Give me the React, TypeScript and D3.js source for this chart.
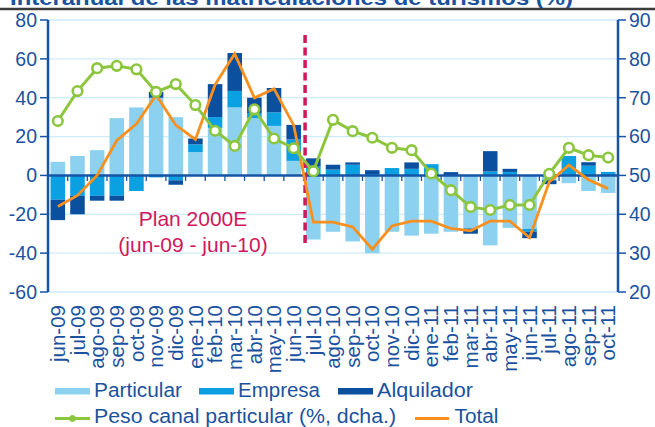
import React from "react";
import * as d3 from "d3";

const categories = ["jun-09","jul-09","ago-09","sep-09","oct-09","nov-09","dic-09","ene-10","feb-10","mar-10","abr-10","may-10","jun-10","jul-10","ago-10","sep-10","oct-10","nov-10","dic-10","ene-11","feb-11","mar-11","abr-11","may-11","jun-11","jul-11","ago-11","sep-11","oct-11"];
const particular = [7, 10, 13, 29.5, 35, 40, 30, 12, 24.5, 35, 29.5, 25.5, 7.5, -33, -29, -34, -40, -29, -31, -30, -29, -27.3, -36, -27, -27.5, -2.5, -4, -8, -9];
const empresa = [-12.5, -10.5, -10.5, -10.5, -8, -1, -2.5, 4, 5.5, 8.5, 2.5, 7, 11, 4.5, 3, 5.5, 0.7, 3.8, 3.4, 5.8, 0, 0, 2, 1.8, -1.5, 0, 10, 5, 1.8];
const alquilador = [-10.5, -9.5, -2.5, -2.5, 0, 3, -2.3, 3, 17, 19.5, 8, 12.5, 7.5, 4.3, 2.5, 1.2, 2, 0, 3.3, 0, 1.7, -2.7, 10.5, 1.6, -3.3, -2, 0, 1.8, 0];
const total = [-16, -10.3, 0, 18, 26.6, 41.4, 25.9, 18.5, 46.7, 62.6, 39.9, 44.6, 25.9, -24, -24, -26.5, -38, -26, -23.5, -23.5, -27.3, -28.5, -23.5, -23.5, -32, -3.4, 5.3, -2.2, -6.8];
const peso = [64, 71.7, 77.6, 78.2, 77.3, 71.5, 73.5, 68.1, 61.5, 57.6, 67, 59.5, 57, 51.1, 64.3, 61.4, 59.7, 57.1, 56.5, 50.5, 46.2, 41.9, 41.1, 42.4, 42.4, 50.4, 57.1, 55.2, 54.6];
const leftTicks = [-60, -40, -20, 0, 20, 40, 60, 80];
const rightTicks = [20, 30, 40, 50, 60, 70, 80, 90];
const seriesKeys = ["particular", "empresa", "alquilador"];
const seriesNames = ["Particular", "Empresa", "Alquilador"];
const title = "Interanual de las matriculaciones de turismos (%)";
const annotation = ["Plan 2000E", "(jun-09 - jun-10)"];
const lineNames = ["Peso canal particular (%, dcha.)", "Total"];

const W = 655, H = 427;
const C = {
  particular: "#8dd1f1",
  empresa: "#0aa0e2",
  alquilador: "#0b4f9f",
  green: "#8cc63f",
  orange: "#f7901e",
  axis: "#1654a6",
  text: "#1b52a0",
  grid: "#cdebf8",
  magenta: "#d0175c",
};
const FONT = "'Liberation Sans', Arial, sans-serif";

export default function App() {
  const pad = 0.26;
  const x = d3.scaleBand<string>().domain(categories).range([48, 618]).paddingInner(pad).paddingOuter(pad / 2);
  const step = x.step();
  const bw = x.bandwidth();
  const cx = (c: string) => (x(c) as number) + bw / 2;
  const yL = d3.scaleLinear().domain([-60, 80]).range([292, 20]);
  const yR = d3.scaleLinear().domain([20, 90]).range([292, 20]);

  const rows = categories.map((c, i) => ({ cat: c, particular: particular[i], empresa: empresa[i], alquilador: alquilador[i] }));
  const stacked = d3.stack<any>().keys(seriesKeys).offset(d3.stackOffsetDiverging)(rows);

  const totalLine = d3.line<number>().x((_, i) => cx(categories[i])).y((d) => yL(d));
  const pesoLine = d3.line<number>().x((_, i) => cx(categories[i])).y((d) => yR(d));

  const x0 = 48, x1 = 618;
  const dashX = (x("jul-10") as number) - 1;
  const legendBars = [
    { tx: 94, len: 88 },
    { tx: 238, len: 82 },
    { tx: 377, len: 96 },
  ];

  return (
    <svg width={W} height={H} style={{ position: "absolute", left: 0, top: 0, background: "#fff" }} fontFamily={FONT}>
      {/* title */}
      <text x={10} y={4.5} fontSize={20} fontWeight="bold" fill={C.text} textLength={563} lengthAdjust="spacingAndGlyphs">{title}</text>
      <line x1={0} x2={W} y1={9} y2={9} stroke="#3c3c3c" strokeWidth={2.5} />

      {/* grid */}
      {leftTicks.map((t) => (
        <line key={"g" + t} x1={x0} x2={x1} y1={yL(t)} y2={yL(t)} stroke={C.grid} strokeWidth={1.3} />
      ))}

      {/* bars */}
      {stacked.map((s) => (
        <g key={s.key} fill={(C as any)[s.key]}>
          {s.map((d: any, i: number) => {
            const y0 = yL(d[0]), y1 = yL(d[1]);
            const h = Math.abs(y0 - y1);
            if (h < 0.01) return null;
            return <rect key={i} x={x(categories[i])} width={bw} y={Math.min(y0, y1)} height={h} />;
          })}
        </g>
      ))}

      {/* zero line with ticks */}
      <line x1={x0} x2={x1} y1={yL(0)} y2={yL(0)} stroke={C.axis} strokeWidth={2.5} />
      {categories.slice(1).map((c, i) => {
        const bx = (x(c) as number) - (step - bw) / 2;
        return <line key={"zt" + i} x1={bx} x2={bx} y1={yL(0)} y2={yL(0) + 5.5} stroke={C.axis} strokeWidth={1.3} />;
      })}

      {/* left axis */}
      <line x1={x0} x2={x0} y1={yL(80)} y2={yL(-60)} stroke={C.axis} strokeWidth={2.5} />
      {leftTicks.map((t) => (
        <g key={"lt" + t}>
          <line x1={x0 - 8} x2={x0} y1={yL(t)} y2={yL(t)} stroke={C.axis} strokeWidth={1.5} />
          <text x={37} y={yL(t)} dy="0.35em" textAnchor="end" fontSize={19.5} fill={C.text}>{t}</text>
        </g>
      ))}
      {/* right axis */}
      <line x1={x1} x2={x1} y1={yR(90)} y2={yR(20)} stroke={C.axis} strokeWidth={2.5} />
      {rightTicks.map((t) => (
        <g key={"rt" + t}>
          <line x1={x1} x2={x1 + 8} y1={yR(t)} y2={yR(t)} stroke={C.axis} strokeWidth={1.5} />
          <text x={629} y={yR(t)} dy="0.35em" textAnchor="start" fontSize={19.5} fill={C.text}>{t}</text>
        </g>
      ))}

      {/* x labels */}
      {categories.map((c) => (
        <text key={"xl" + c} transform={`translate(${cx(c)},305) rotate(-90)`} dy="0.35em" textAnchor="end" fontSize={20.5} fill={C.text}>{c}</text>
      ))}

      {/* dashed plan line */}
      <line x1={dashX} x2={dashX} y1={35} y2={245} stroke={C.magenta} strokeWidth={3.5} strokeDasharray="8,4.5" />
      <text x={193} y={226} textAnchor="middle" fontSize={21} fill={C.magenta}>{annotation[0]}</text>
      <text x={193} y={252} textAnchor="middle" fontSize={21} fill={C.magenta}>{annotation[1]}</text>

      {/* total line */}
      <path d={totalLine(total) as string} fill="none" stroke={C.orange} strokeWidth={2.8} />
      {/* peso line */}
      <path d={pesoLine(peso) as string} fill="none" stroke={C.green} strokeWidth={3} />
      {peso.map((v, i) => (
        <circle key={"pc" + i} cx={cx(categories[i])} cy={yR(v)} r={4.8} fill="#fff" stroke={C.green} strokeWidth={2.6} />
      ))}

      {/* legend */}
      {legendBars.map((lb, i) => (
        <g key={"lg" + i}>
          <rect x={lb.tx - 39} y={388} width={35} height={6.5} fill={(C as any)[seriesKeys[i]]} />
          <text x={lb.tx} y={397} fontSize={20} fill={C.text} textLength={lb.len} lengthAdjust="spacingAndGlyphs">{seriesNames[i]}</text>
        </g>
      ))}
      <line x1={55} x2={90} y1={418.5} y2={418.5} stroke={C.green} strokeWidth={3} />
      <circle cx={72.5} cy={418.5} r={3} fill={C.green} stroke={C.green} strokeWidth={1} />
      <text x={94} y={423} fontSize={20} fill={C.text} textLength={302} lengthAdjust="spacingAndGlyphs">{lineNames[0]}</text>
      <line x1={415} x2={449} y1={418.5} y2={418.5} stroke={C.orange} strokeWidth={3} />
      <text x={454.5} y={423} fontSize={20} fill={C.text} textLength={44} lengthAdjust="spacingAndGlyphs">{lineNames[1]}</text>
    </svg>
  );
}
